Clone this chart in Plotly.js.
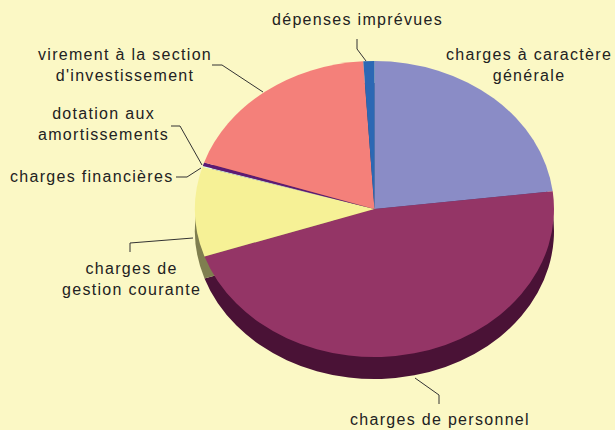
<!DOCTYPE html>
<html>
<head>
<meta charset="utf-8">
<script src="https://cdn.plot.ly/plotly-3.0.1.min.js"></script>
<style>
  html, body { margin: 0; padding: 0; background: #fbf8c5; }
  #chart { width: 615px; height: 430px; }
  .annotation-text { letter-spacing: 1.3px; }
</style>
</head>
<body>
<div id="chart"></div>
<script>
// ---- data ----
const categories = [
  "charges à caractère générale",
  "charges de personnel",
  "charges de gestion courante",
  "charges financières",
  "dotation aux amortissements",
  "virement à la section d'investissement",
  "dépenses imprévues"
];
const values = [23.1, 46.7, 9.8, 0.1, 0.4, 18.9, 1.0];
const labelTexts = [
  "charges à caractère<br>générale",
  "charges de personnel",
  "charges de<br>gestion courante",
  "charges financières",
  "dotation aux<br>amortissements",
  "virement à la section<br>d'investissement",
  "dépenses imprévues"
];

// ---- style ----
const topColors  = ["#8a8cc6", "#943566", "#f6f196", "#ccffff", "#5c1a74", "#f4807a", "#2c68b4"];
const sideColors = ["#45467a", "#4a1236", "#7f7e4f", "#7a9a9a", "#36103f", "#8a4744", "#1a3f6c"];

const W = 615, H = 430;
const cx = 374.5, cy = 209, rx = 179.5, ry = 148, depth = 22;
const s = ry / rx;

// label anchor points (pixels) and leader lines (pixels)
const labelPos = [
  [529, 65.3], [439.5, 419.5], [131, 278.5], [91.5, 177], [103, 124.5], [124.5, 64.8], [357.5, 19.5]
];
const leaderPaths = [
  null,
  [[415,378],[439,395],[439,404]],
  [[130,252],[130,243],[193,238]],
  [[176,177],[187,177],[201,168]],
  [[171,126],[180,126],[202,165]],
  [[212,65],[222,65],[263,92]],
  [[357,39],[357,49],[366,61]]
];

const px = x => x / W;
const py = y => 1 - y / H;

const dx = [px(cx - rx), px(cx + rx)];
const dyTop = [py(cy + rx), py(cy - rx)];
const shift = (depth / s) / H;
const dyShadow = [dyTop[0] - shift, dyTop[1] - shift];

const common = {
  type: 'pie', labels: categories, values: values, sort: false,
  direction: 'clockwise', rotation: 0, textinfo: 'none',
  showlegend: false, hoverinfo: 'label+percent'
};

const traces = [
  Object.assign({}, common, {
    name: 'side', domain: {x: dx, y: dyShadow},
    marker: {colors: sideColors, line: {width: 0}}, hoverinfo: 'skip'
  }),
  Object.assign({}, common, {
    name: 'budget', domain: {x: dx, y: dyTop},
    marker: {colors: topColors, line: {width: 0}}
  })
];

const annotations = labelTexts.map((t, i) => ({
  text: t, xref: 'paper', yref: 'paper',
  x: px(labelPos[i][0]), y: py(labelPos[i][1]),
  xanchor: 'center', yanchor: 'middle', align: 'center', showarrow: false,
  font: {family: 'Liberation Sans, Arial, sans-serif', size: 16, color: '#222222'}
}));

const shapes = leaderPaths.filter(p => p).map(p => ({
  type: 'path', xref: 'paper', yref: 'paper',
  path: p.map((pt, k) => (k ? 'L' : 'M') + px(pt[0]) + ',' + py(pt[1])).join(' '),
  line: {color: '#333333', width: 1}
}));

const layout = {
  width: W, height: H,
  margin: {l: 0, r: 0, t: 0, b: 0},
  paper_bgcolor: '#fbf8c5', plot_bgcolor: '#fbf8c5',
  annotations: annotations, shapes: shapes
};

Plotly.newPlot('chart', traces, layout, {displayModeBar: false, staticPlot: true}).then(gd => {
  const layer = gd.querySelector('.pielayer');
  if (layer) layer.setAttribute('transform', 'translate(0,' + (cy * (1 - s)) + ') scale(1,' + s + ')');
});
</script>
</body>
</html>
